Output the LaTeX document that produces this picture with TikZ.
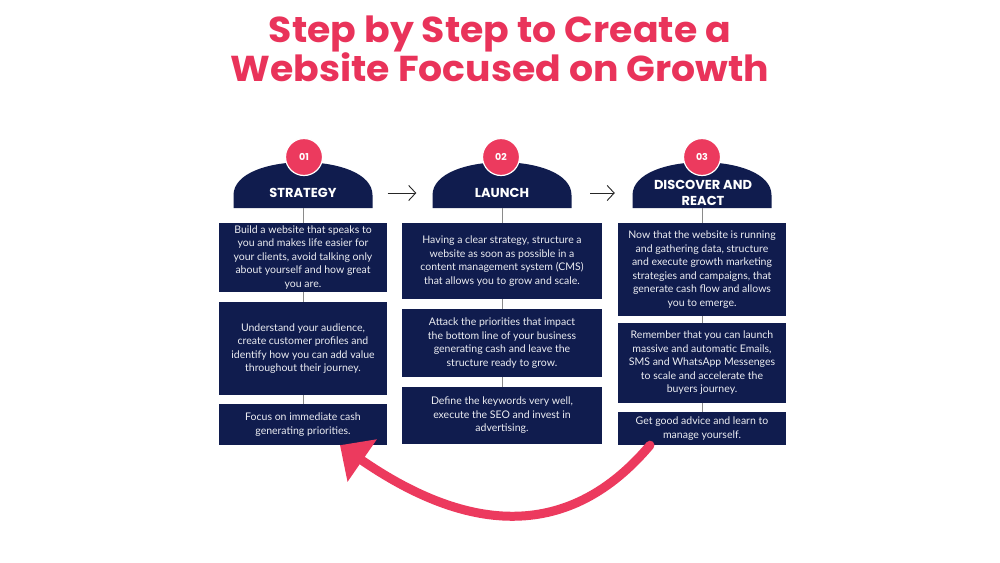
\documentclass[tikz,border=0pt]{standalone}
\usepackage{fontspec}
\setmainfont{Lato}
\newfontfamily\pop{Poppins}
\newfontfamily\poptitle[FakeStretch=1.05]{Poppins}
\usetikzlibrary{arrows.meta}
\definecolor{navy}{HTML}{101C4E}
\definecolor{brand}{HTML}{EC3A5E}
\definecolor{titlered}{HTML}{E9335A}
\definecolor{linegrey}{HTML}{8A8A8A}
\definecolor{boxtext}{HTML}{ECEDF2}
\begin{document}
\begin{tikzpicture}[x=1pt,y=-1pt,
  title/.style={text=titlered, font=\poptitle\bfseries\fontsize{36}{38}\selectfont, inner sep=0pt, anchor=base},
  box/.style={fill=navy, draw=none, inner sep=0pt, align=center, text=boxtext,
    font=\fontsize{10.5}{13.5}\selectfont},
  colA/.style={minimum width=168pt},
  colB/.style={minimum width=200pt},
  domebox/.style={minimum width=139pt, minimum height=30pt, inner sep=0pt, draw=none},
  htext/.style={text=white, font=\pop\bfseries\fontsize{13}{15.4}\selectfont, align=center, inner sep=0pt},
  num/.style={circle, fill=brand, draw=white, line width=1.2pt, minimum size=37pt, inner sep=0pt,
    text=white, font=\pop\bfseries\fontsize{9.5}{11}\selectfont},
  conn/.style={draw=linegrey, line width=0.9pt},
  thinarrow/.style={draw=black!85, line width=0.9pt, -{Straight Barb[length=7pt,width=15pt]}},
  redarrow/.style={draw=brand, line width=9pt, line cap=round, -{Triangle[length=27pt,width=50pt]}},
  dome/.pic={\fill[navy] (-69.5,0) -- (-69.5,-13) .. controls (-69.5,-57) and (69.5,-57) .. (69.5,-13) -- (69.5,0) -- cycle;}
]
\useasboundingbox (0,0) rectangle (1000,562);
\fill[white] (0,0) rectangle (1000,562);

% title
\node[title] (t1) at (500,42) {Step by Step to Create a};
\node[title] (t2) at (500,81) {Website Focused on Growth};

% header anchors
\node[domebox] (d1) at (303,193) {};
\node[domebox] (d2) at (502,193) {};
\node[domebox] (d3) at (702,193) {};

% domes
\pic at (d1.south) {dome};
\pic at (d2.south) {dome};
\pic at (d3.south) {dome};

% number circles
\node[num] (n1) at (304,157) {01};
\node[num] (n2) at (501,157) {02};
\node[num] (n3) at (702,157) {03};

% header text
\node[htext, anchor=base] (h1) at (303,197.5) {STRATEGY};
\node[htext, anchor=base] (h2) at (502,197.5) {LAUNCH};
\node[htext] (h3) at (703,193) {DISCOVER AND\\REACT};

% boxes column 1
\node[box, colA, minimum height=69pt] (b11) at (303,257.5) {Build a website that speaks to\\you and makes life easier for\\your clients, avoid talking only\\about yourself and how great\\you are.};
\node[box, colA, minimum height=93pt] (b12) at (303,348.5) {Understand your audience,\\create customer profiles and\\identify how you can add value\\throughout their journey.};
\node[box, colA, minimum height=41pt] (b13) at (303,424.5) {Focus on immediate cash\\generating priorities.};

% boxes column 2
\node[box, colB, minimum height=76pt] (b21) at (502,261) {Having a clear strategy, structure a\\website as soon as possible in a\\content management system (CMS)\\that allows you to grow and scale.};
\node[box, colB, minimum height=68pt] (b22) at (502,343) {Attack the priorities that impact\\the bottom line of your business\\generating cash and leave the\\structure ready to grow.};
\node[box, colB, minimum height=57pt] (b23) at (502,415.5) {Define the keywords very well,\\execute the SEO and invest in\\advertising.};

% boxes column 3
\node[box, colA, minimum height=93pt] (b31) at (702,269.5) {Now that the website is running\\and gathering data, structure\\and execute growth marketing\\strategies and campaigns, that\\generate cash flow and allows\\you to emerge.};
\node[box, colA, minimum height=80pt] (b32) at (702,363) {Remember that you can launch\\massive and automatic Emails,\\SMS and WhatsApp Messenges\\to scale and accelerate the\\buyers journey.};
\node[box, colA, minimum height=33pt] (b33) at (702,428.5) {Get good advice and learn to\\manage yourself.};

% connectors
\draw[conn] (d1.south) -- (b11.north);
\draw[conn] (b11.south) -- (b12.north);
\draw[conn] (b12.south) -- (b13.north);
\draw[conn] (d2.south) -- (b21.north);
\draw[conn] (b21.south) -- (b22.north);
\draw[conn] (b22.south) -- (b23.north);
\draw[conn] (d3.south) -- (b31.north);
\draw[conn] (b31.south) -- (b32.north);
\draw[conn] (b32.south) -- (b33.north);

% thin arrows between headers
\draw[thinarrow] ([xshift=15pt]d1.east) -- ([xshift=-16pt]d2.west);
\draw[thinarrow] ([xshift=18.5pt]d2.east) -- ([xshift=-17.5pt]d3.west);

% red return arrow
\coordinate (rs) at ([xshift=-52pt]b33.south);
\coordinate (re) at ([xshift=37pt]b13.south);
\draw[redarrow] (rs) .. controls (570,540) and (470,535) .. (re);
\end{tikzpicture}
\end{document}
